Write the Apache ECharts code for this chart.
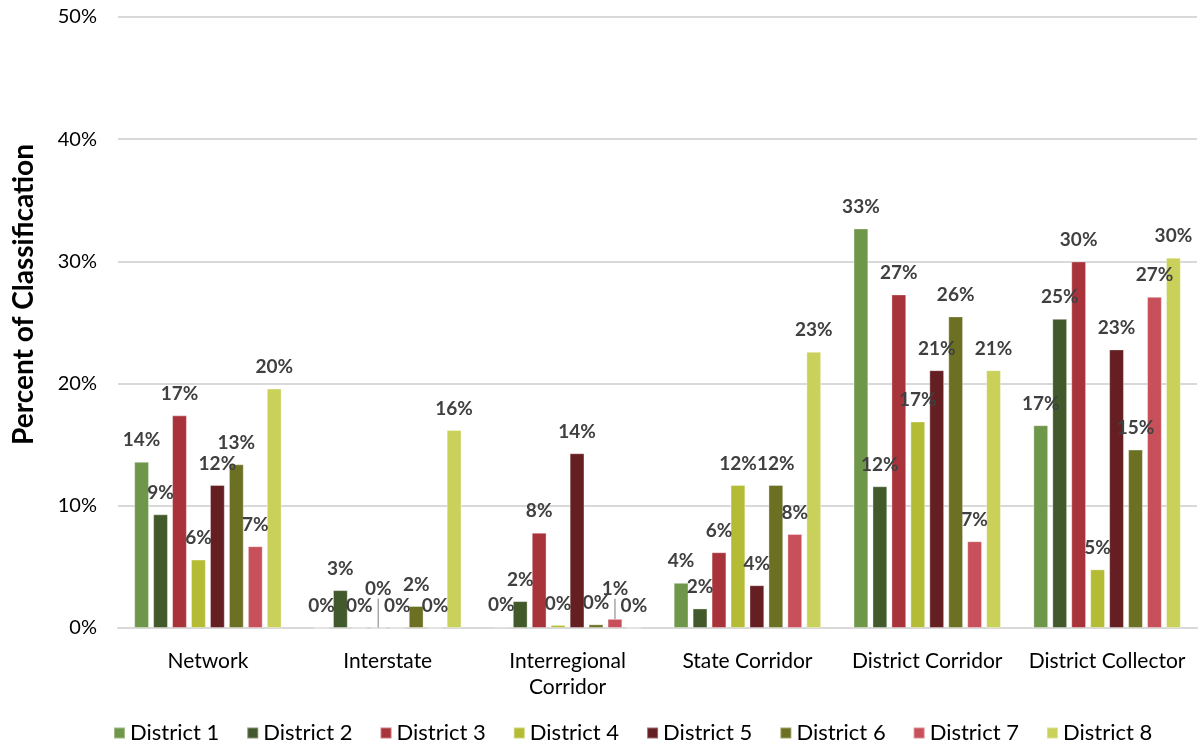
<!DOCTYPE html>
<html>
<head>
<meta charset="utf-8">
<script src="https://cdn.jsdelivr.net/npm/echarts@6/dist/echarts.min.js"></script>
<style>
html,body{margin:0;padding:0;background:#fff;}
#chart{width:1204px;height:744px;}
</style>
</head>
<body>
<div id="chart"></div>
<script>
const categories = ['Network', 'Interstate', 'Interregional\nCorridor', 'State Corridor', 'District Corridor', 'District Collector'];
const seriesNames = ['District 1', 'District 2', 'District 3', 'District 4', 'District 5', 'District 6', 'District 7', 'District 8'];
const district1 = [13.6, 0.0, 0.1, 3.7, 32.7, 16.6];
const district2 = [9.3, 3.1, 2.2, 1.6, 11.6, 25.3];
const district3 = [17.4, 0.0, 7.8, 6.2, 27.3, 30.0];
const district4 = [5.6, 0.0, 0.25, 11.7, 16.9, 4.8];
const district5 = [11.7, 0.0, 14.3, 3.5, 21.1, 22.8];
const district6 = [13.4, 1.8, 0.3, 11.7, 25.5, 14.6];
const district7 = [6.7, 0.0, 0.75, 7.7, 7.1, 27.1];
const district8 = [19.6, 16.2, 0.0, 22.6, 21.1, 30.3];
const yTicks = [0, 10, 20, 30, 40, 50];

const allValues = [district1, district2, district3, district4, district5, district6, district7, district8];
const colors = ['#6F974A', '#42592B', '#A8333B', '#B4BC36', '#651F23', '#6B7023', '#C8505A', '#C9D15A'];
// label displacement (style only): "seriesIndex_categoryIndex" -> dy
const labelShift = {'3_1': -17, '6_2': -8};

const chart = echarts.init(document.getElementById('chart'));
const series = allValues.map((vals, si) => ({
  name: seriesNames[si],
  type: 'bar',
  data: vals.map((v, ci) => {
    const key = si + '_' + ci;
    if (labelShift[key] !== undefined) {
      return { value: v, labelLine: { show: true, lineStyle: { color: '#A6A6A6', width: 1.5 } } };
    }
    return { value: v };
  }),
  barGap: '28%',
  barCategoryGap: '18%',
  itemStyle: { color: colors[si], borderColor: 'rgba(255,255,255,0.35)', borderWidth: 1 },
  label: {
    show: true,
    position: 'top',
    distance: 12,
    formatter: p => Math.round(p.value) + '%',
    fontFamily: 'Lato',
    fontWeight: 'bold',
    fontSize: 19,
    color: '#404040'
  },
  labelLine: { show: false },
  labelLayout: function (params) {
    const key = si + '_' + params.dataIndex;
    if (labelShift[key] !== undefined) {
      return { dy: labelShift[key] };
    }
    return {};
  }
}));

chart.setOption({
  animation: false,
  textStyle: { fontFamily: 'Lato' },
  grid: { left: 118, right: 7, top: 17, bottom: 116 },
  legend: {
    bottom: -5,
    left: 108,
    itemWidth: 11,
    itemHeight: 11,
    itemGap: 27,
    icon: 'rect',
    textStyle: { fontFamily: 'Lato', fontSize: 22, color: '#000' },
    data: seriesNames
  },
  xAxis: {
    type: 'category',
    data: categories,
    axisTick: { show: false },
    axisLine: { lineStyle: { color: '#D9D9D9', width: 2 } },
    axisLabel: { fontFamily: 'Lato', fontSize: 21, color: '#000', margin: 20, lineHeight: 26, interval: 0 }
  },
  yAxis: {
    type: 'value',
    min: 0,
    max: 50,
    interval: 10,
    name: 'Percent of Classification',
    nameLocation: 'middle',
    nameGap: 80,
    nameTextStyle: { fontFamily: 'Lato', fontWeight: 'bold', fontSize: 28, color: '#000', padding: [0, 0, 0, 56] },
    axisLabel: { fontFamily: 'Lato', fontSize: 20, color: '#000', margin: 21, formatter: v => v + '%' },
    splitLine: { lineStyle: { color: '#D9D9D9', width: 2 } },
    axisLine: { show: false },
    axisTick: { show: false }
  },
  series: series
});
</script>
</body>
</html>
